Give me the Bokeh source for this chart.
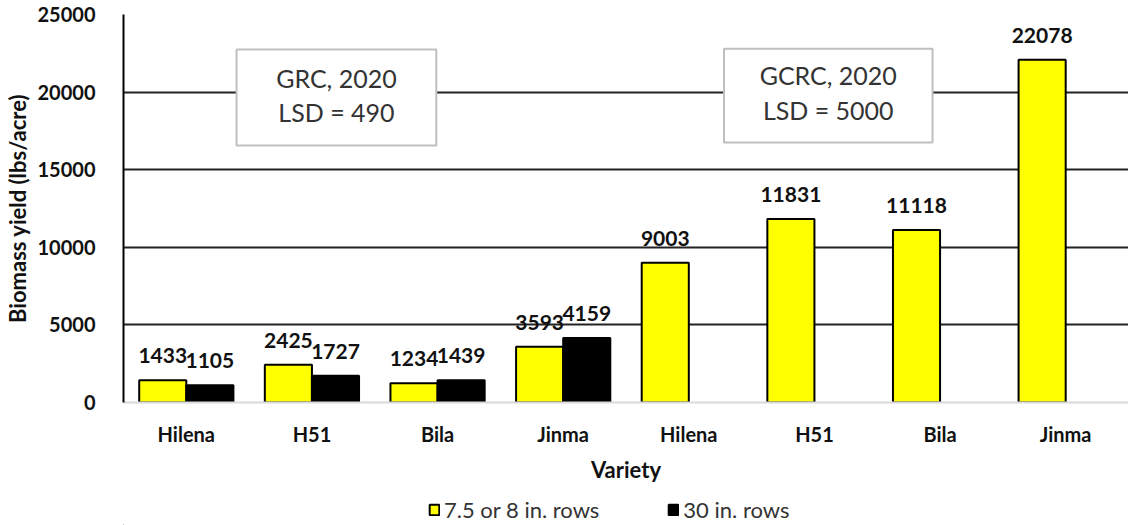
import numpy as np
from bokeh.plotting import figure
from bokeh.layouts import column
from bokeh.models import (ColumnDataSource, FixedTicker, Range1d, Legend, LegendItem,
                          BoxAnnotation, Label, LabelSet)
from bokeh.core.properties import value
from bokeh.embed import file_html
from bokeh.resources import INLINE

# ---- data ----
varieties = ["Hilena", "H51", "Bila", "Jinma", "Hilena", "H51", "Bila", "Jinma"]
narrow_rows = [1433, 2425, 1234, 3593, 9003, 11831, 11118, 22078]   # 7.5 or 8 in. rows
wide_rows = [1105, 1727, 1439, 4159, None, None, None, None]        # 30 in. rows
y_ticks = [0, 5000, 10000, 15000, 20000, 25000]
series_names = ["7.5 or 8 in. rows", "30 in. rows"]
series_colors = ["#ffff00", "black"]
box_texts = [("GRC, 2020", "LSD = 490"), ("GCRC, 2020", "LSD = 5000")]

FONT = "Lato"
BAR_W = 0.375

centers = np.arange(len(varieties)) + 0.5

src_y = ColumnDataSource(dict(
    x=centers - BAR_W / 2, top=narrow_rows,
    lab=[str(v) for v in narrow_rows]))
idx_w = [i for i, v in enumerate(wide_rows) if v is not None]
src_b = ColumnDataSource(dict(
    x=[centers[i] + BAR_W / 2 for i in idx_w], top=[wide_rows[i] for i in idx_w],
    lab=[str(wide_rows[i]) for i in idx_w]))

p = figure(frame_width=1005, frame_height=388, output_backend="svg", toolbar_location=None,
           x_range=Range1d(0, len(varieties)), y_range=Range1d(0, 25000),
           min_border_left=118, min_border_right=0, min_border_top=14, min_border_bottom=95)
p.outline_line_color = None
p.background_fill_color = "white"

r1 = p.vbar(x="x", top="top", width=BAR_W, source=src_y, fill_color=series_colors[0],
            line_color="black", line_width=2)
r2 = p.vbar(x="x", top="top", width=BAR_W, source=src_b, fill_color=series_colors[1],
            line_color="black", line_width=2)

for src in (src_y, src_b):
    p.add_layout(LabelSet(x="x", y="top", text="lab", source=src, text_align="center",
                          text_baseline="bottom", y_offset=17, text_font=value(FONT),
                          text_font_size="21px", text_font_style="bold",
                          text_color="#111111"))

# axes
p.yaxis.ticker = FixedTicker(ticks=y_ticks)
p.yaxis.major_tick_line_color = None
p.yaxis.minor_tick_line_color = None
p.yaxis.axis_line_color = "black"
p.yaxis.axis_line_width = 2
p.yaxis.major_label_text_font = FONT
p.yaxis.major_label_text_font_size = "20px"
p.yaxis.major_label_text_font_style = "bold"
p.yaxis.major_label_text_color = "#111111"
p.yaxis.major_label_standoff = 22
p.yaxis.axis_label = "Biomass yield (lbs/acre)"
p.yaxis.axis_label_text_font = FONT
p.yaxis.axis_label_text_font_size = "22px"
p.yaxis.axis_label_text_font_style = "bold"
p.yaxis.axis_label_text_color = "#111111"
p.yaxis.axis_label_standoff = 4

p.xaxis.ticker = FixedTicker(ticks=list(centers))
p.xaxis.major_label_overrides = {float(c): v for c, v in zip(centers, varieties)}
p.xaxis.major_tick_line_color = None
p.xaxis.minor_tick_line_color = None
p.xaxis.axis_line_color = "#d9d9d9"
p.xaxis.axis_line_width = 2
p.xaxis.major_label_text_font = FONT
p.xaxis.major_label_text_font_size = "20px"
p.xaxis.major_label_text_font_style = "bold"
p.xaxis.major_label_text_color = "#111111"
p.xaxis.major_label_standoff = 13
p.xaxis.axis_label = "Variety"
p.xaxis.axis_label_text_font = FONT
p.xaxis.axis_label_text_font_size = "22px"
p.xaxis.axis_label_text_font_style = "bold"
p.xaxis.axis_label_text_color = "#111111"
p.xaxis.axis_label_standoff = 7

p.xgrid.visible = False
p.ygrid.grid_line_color = "#222222"
p.ygrid.grid_line_width = 2

# annotation boxes
box_geo = [dict(left=0.90, right=2.49, top=22740, bottom=16560, cx=1.695, y1=20940, y2=18690),
           dict(left=4.78, right=6.44, top=22800, bottom=16750, cx=5.61, y1=21100, y2=18840)]
for (t1, t2), g in zip(box_texts, box_geo):
    p.add_layout(BoxAnnotation(left=g["left"], right=g["right"], top=g["top"], bottom=g["bottom"],
                               fill_color="white", fill_alpha=1.0, line_color="#bfbfbf",
                               line_width=2, line_alpha=1.0))
    for t, yy in ((t1, g["y1"]), (t2, g["y2"])):
        p.add_layout(Label(x=g["cx"], y=yy, text=t, text_align="center", text_baseline="middle",
                           text_font=FONT, text_font_size="25px", text_color="#333333"))

# ---- legend strip (separate small figure below the chart) ----
lf = figure(width=1123, height=28, output_backend="svg", toolbar_location=None,
            x_range=Range1d(0, 1), y_range=Range1d(0, 1),
            x_axis_location=None, y_axis_location=None,
            min_border_left=0, min_border_right=0, min_border_top=0, min_border_bottom=0)
lf.outline_line_color = None
lf.xgrid.visible = False
lf.ygrid.visible = False
# legend swatch renderers: one off-screen placeholder row each so the swatches get drawn
swatch = dict(x=[-5.0], top=[0.0])
l1 = lf.vbar(x="x", top="top", width=0.1, source=ColumnDataSource(swatch),
             fill_color=series_colors[0], line_color="black", line_width=2)
l2 = lf.vbar(x="x", top="top", width=0.1, source=ColumnDataSource(swatch),
             fill_color=series_colors[1], line_color="black", line_width=2)
legend = Legend(items=[LegendItem(label=series_names[0], renderers=[l1]),
                       LegendItem(label=series_names[1], renderers=[l2])],
                orientation="horizontal", location=(305, 2), glyph_width=12, glyph_height=13,
                label_text_font=FONT, label_text_font_size="22px", label_text_color="#333333",
                spacing=68, label_standoff=4, padding=0, margin=0, label_height=16,
                border_line_alpha=0, background_fill_alpha=0)
lf.add_layout(legend, "center")

layout = column(p, lf, spacing=0)
open("out.html", "w").write(file_html(layout, INLINE))
